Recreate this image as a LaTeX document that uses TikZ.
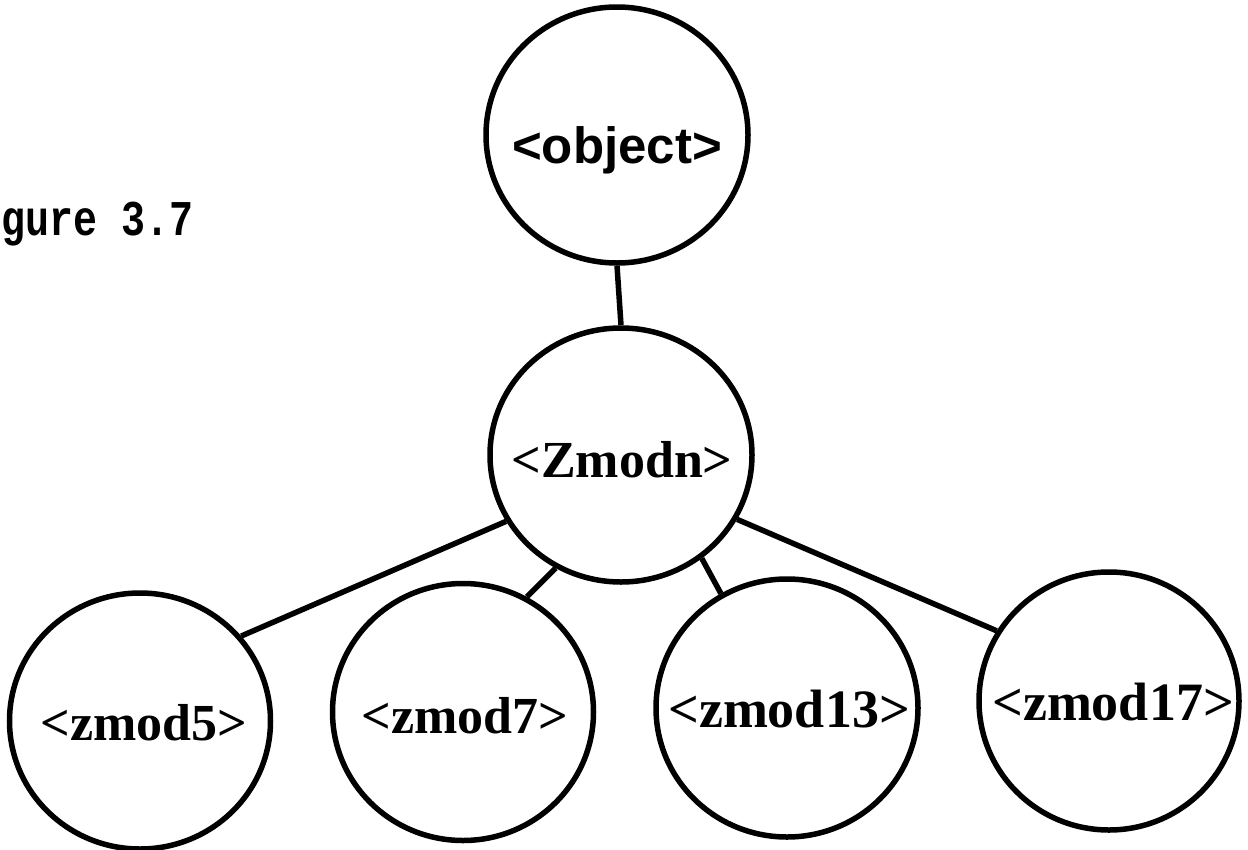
\documentclass[tikz,border=0pt]{standalone}
\usepackage{fontspec}
\usetikzlibrary{shapes.geometric}
\newfontfamily\labserif{Liberation Serif}
\newfontfamily\labsans{Liberation Sans}
\newfontfamily\labmono{Liberation Mono}
\begin{document}
\begin{tikzpicture}[x=1pt,y=-1pt,
  ell/.style={draw=black, line width=5.5pt, ellipse, inner sep=0pt, minimum width=262pt, minimum height=256pt},
  lab/.style={anchor=base, inner sep=0pt, font=\labserif\bfseries\fontsize{52}{52}\selectfont},
  conn/.style={draw=black, line width=5.5pt}]
\useasboundingbox (0,0) rectangle (1248,849);
\fill[white] (0,0) rectangle (1248,849);
% caption (left part cut off in the reference)
\node[anchor=base west, inner sep=0pt, font=\labmono\bfseries\fontsize{50}{50}\selectfont] (cap) at (1,235) {\scalebox{0.8}[1]{gure 3.7}};
% circles
\node[ell] (obj) at (617,135) {};
\node[ell, minimum height=254pt] (zn) at (621,455) {};
\node[ell, minimum width=261pt] (z5) at (140,721) {};
\node[ell, minimum width=261pt, minimum height=257pt] (z7) at (463,712) {};
\node[ell, minimum height=258pt] (z13) at (787,708) {};
\node[ell, minimum width=260pt, minimum height=258pt] (z17) at (1109,701) {};
% labels
\node[anchor=base, inner sep=0pt, font=\labsans\bfseries\fontsize{51}{51}\selectfont] (tobj) at (617,163) {<object>};
\node[lab] (tzn) at (622,477) {<Zmodn>};
\node[lab] (tz5) at (144,740) {<zmod5>};
\node[lab] (tz7) at (465,733) {<zmod7>};
\node[lab, font=\labserif\bfseries\fontsize{54}{54}\selectfont] (tz13) at (789,727) {<zmod13>};
\node[lab, font=\labserif\bfseries\fontsize{54}{54}\selectfont] (tz17) at (1113,720) {<zmod17>};
% connectors
\draw[conn] (obj.south) -- (zn.north);
\draw[conn] (zn.210.7) -- (z5.40.3);
\draw[conn] (zn.240.5) -- (z7.61);
\draw[conn] (zn.308) -- (z13.120.5);
\draw[conn] (zn.331) -- (z17.148.4);
\end{tikzpicture}
\end{document}
